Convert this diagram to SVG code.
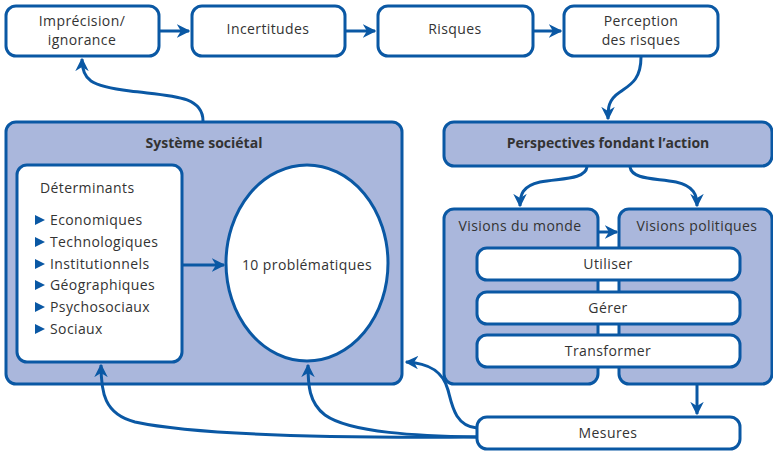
<svg xmlns="http://www.w3.org/2000/svg" width="773" height="452" viewBox="0 0 773 452">
<defs>
<style>
.box{fill:#fff;stroke:#0a58a4;stroke-width:3}
.big{fill:#aab7dc;stroke:#0a58a4;stroke-width:3}
.t{font-family:"Open Sans","Noto Sans","Liberation Sans",sans-serif;font-size:14px;fill:#333;text-anchor:middle;letter-spacing:0.4px}
.b{font-weight:bold;font-size:14px;letter-spacing:0}
.l{text-anchor:start}
.c{fill:none;stroke:#0a58a4;stroke-width:3}
.bul{fill:#0a58a4}
</style>
<marker id="ah" viewBox="0 0 10 10" refX="9" refY="5" markerWidth="4.5" markerHeight="4.5" orient="auto" markerUnits="strokeWidth">
<path d="M0,0 L10,5 L0,10 L3,5 Z" fill="#0a58a4"/>
</marker>
</defs>
<rect width="773" height="452" fill="#fff"/>

<g id="imprecision"><rect class="box" x="6" y="6" width="153" height="50" rx="10"/><text class="t" x="82" y="26">Imprécision/</text><text class="t" x="82" y="45">ignorance</text></g>
<g id="incertitudes"><rect class="box" x="192" y="6" width="153" height="50" rx="10"/><text class="t" x="268" y="34">Incertitudes</text></g>
<g id="risques"><rect class="box" x="378" y="6" width="155" height="50" rx="10"/><text class="t" x="455" y="34">Risques</text></g>
<g id="perception"><rect class="box" x="564" y="6" width="154" height="50" rx="10"/><text class="t" x="641" y="26">Perception</text><text class="t" x="641" y="45">des risques</text></g>

<g id="systeme"><rect class="big" x="6" y="122" width="396" height="262" rx="10"/><text class="t b" x="204" y="148">Système sociétal</text></g>
<g id="determinants"><rect class="box" x="17" y="165" width="165" height="197" rx="10"/>
<text class="t l" x="40" y="193">Déterminants</text>
<polygon class="bul" points="35,215 45,220 35,225"/><text class="t l" x="50" y="225">Economiques</text>
<polygon class="bul" points="35,237 45,242 35,247"/><text class="t l" x="50" y="247">Technologiques</text>
<polygon class="bul" points="35,259 45,264 35,269"/><text class="t l" x="50" y="269">Institutionnels</text>
<polygon class="bul" points="35,280 45,285 35,290"/><text class="t l" x="50" y="290">Géographiques</text>
<polygon class="bul" points="35,302 45,307 35,312"/><text class="t l" x="50" y="312">Psychosociaux</text>
<polygon class="bul" points="35,324 45,329 35,334"/><text class="t l" x="50" y="334">Sociaux</text>
</g>
<g id="problematiques"><ellipse class="box" cx="307" cy="263" rx="81" ry="98"/><text class="t" x="307" y="270">10 problématiques</text></g>

<g id="perspectives"><rect class="big" x="444" y="122" width="328" height="44" rx="10"/><text class="t b" x="608" y="148">Perspectives fondant l’action</text></g>
<g id="visions-monde"><rect class="big" x="444" y="209" width="154" height="175" rx="10"/><text class="t" x="520" y="231">Visions du monde</text></g>
<g id="visions-politiques"><rect class="big" x="619" y="209" width="153" height="175" rx="10"/><text class="t" x="697" y="231">Visions politiques</text></g>
<g id="utiliser"><rect class="box" x="477" y="248" width="263" height="32" rx="10"/><text class="t" x="608" y="269">Utiliser</text></g>
<g id="gerer"><rect class="box" x="477" y="292" width="263" height="32" rx="10"/><text class="t" x="608" y="313">Gérer</text></g>
<g id="transformer"><rect class="box" x="477" y="335" width="263" height="32" rx="10"/><text class="t" x="608" y="356">Transformer</text></g>
<g id="mesures"><rect class="box" x="477" y="417" width="263" height="32" rx="10"/><text class="t" x="608" y="438">Mesures</text></g>

<g id="connectors">
<path class="c" d="M159,31 H189" marker-end="url(#ah)"/>
<path class="c" d="M345,31 H375" marker-end="url(#ah)"/>
<path class="c" d="M533,31 H561" marker-end="url(#ah)"/>
<path class="c" d="M641,57 C641,80 630,85 620,92 C608,100 608,108 608,119" marker-end="url(#ah)"/>
<path class="c" d="M203,121 C203,95 170,96 130,91 C90,86 82,80 82,59" marker-end="url(#ah)"/>
<path class="c" d="M182,265 H224" marker-end="url(#ah)"/>
<path class="c" d="M587,167 C585,180 560,178 540,182 C522,186 520,195 520,206" marker-end="url(#ah)"/>
<path class="c" d="M630,167 C632,180 656,178 676,182 C694,186 697,195 697,206" marker-end="url(#ah)"/>
<path class="c" d="M598,232 H617" marker-end="url(#ah)"/>
<path class="c" d="M697,385 V414" marker-end="url(#ah)"/>
<path class="c" d="M477,428 C455,426 452,405 448,390 C443,372 430,363 406,362" marker-end="url(#ah)"/>
<path class="c" d="M477,437 C420,436 350,433 325,415 C309,403 308,385 308,365" marker-end="url(#ah)"/>
<path class="c" d="M477,437 C350,438 200,436 135,422 C104,414 101,392 101,365" marker-end="url(#ah)"/>
</g>
</svg>
